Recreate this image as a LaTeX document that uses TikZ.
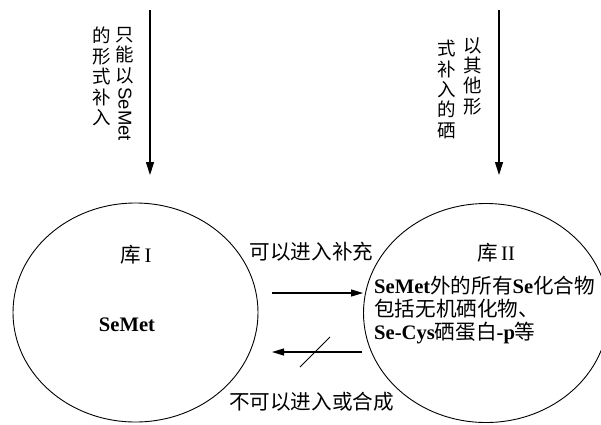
\documentclass[tikz,border=0pt]{standalone}
\usepackage{fontspec}
\setmainfont{Liberation Serif}
\newfontfamily\cjk{Noto Sans CJK SC}
\newfontfamily\vsans{Liberation Sans}
\usetikzlibrary{shapes.geometric,arrows.meta}
\newcommand{\zh}[1]{{\cjk #1}}
\newcommand{\lb}[1]{{\bfseries #1}}
\begin{document}
\begin{tikzpicture}[x=1pt,y=-1pt,
  pool/.style={ellipse,draw,line width=0.9pt,minimum width=245pt,minimum height=219pt,inner sep=0pt},
  vtext/.style={anchor=north,align=center,inner sep=0pt,font=\cjk\fontsize{18.5}{20.4}\selectfont},
  htext/.style={inner sep=0pt,font=\fontsize{20.6}{23}\selectfont},
  feed/.style={line width=1.1pt,-{Triangle[length=13pt,width=8pt]}},
  flow/.style={line width=1.1pt,-{Triangle[length=12pt,width=7pt]}}]
\useasboundingbox (0,0) rectangle (601,424);
\clip (0,0) rectangle (601,424);
% pools
\node[pool] (lib1) at (135.5,312.5) {};
\node[pool] (lib2) at (486,313) {};
\node[htext] (t1) at (136,255) {\zh{库}\,I};
\node[htext,font=\bfseries\fontsize{20.6}{23}\selectfont] (s1) at (127,325) {SeMet};
\node[htext] (t2) at (496,253) {\zh{库}\,II};
\node[htext,anchor=west,align=left] (c2) at (374,310)
  {\lb{SeMet}\zh{外的所有}\lb{Se}\zh{化合物}\\
   \zh{包括无机硒化物、}\\
   \lb{Se-Cys}\zh{硒蛋白}\lb{-p}\zh{等}};
% vertical labels
\node[vtext] (v1) at (125,27) {只\\能\\以\\\raisebox{15pt}{\rotatebox{-90}{\vsans SeMet}}};
\node[vtext] (v2) at (102,27) {的\\形\\式\\补\\入};
\node[vtext] (v3) at (473,37) {以\\其\\他\\形};
\node[vtext] (v4) at (447,40) {式\\补\\入\\的\\硒};
% vertical arrows
\coordinate (a1s) at (150,10);
\coordinate (a1e) at (150,175);
\coordinate (a2s) at (499,10);
\coordinate (a2e) at (499,175);
\draw[feed] (a1s) -- (a1e);
\draw[feed] (a2s) -- (a2e);
% horizontal arrows
\coordinate (h1s) at (272,293);
\coordinate (h2s) at (362,352);
\coordinate (h2e) at (272,352);
\draw[flow] (h1s) -- (h1s -| lib2.west);
\draw[flow] (h2s) -- (h2e);
\coordinate (x1) at (300,367);
\coordinate (x2) at (330,337);
\draw[line width=1pt] (x1) -- (x2);
\node[htext] (l1) at (311.5,252) {\zh{可以进入补充}};
\node[htext] (l2) at (311.5,402) {\zh{不可以进入或合成}};
\end{tikzpicture}
\end{document}
